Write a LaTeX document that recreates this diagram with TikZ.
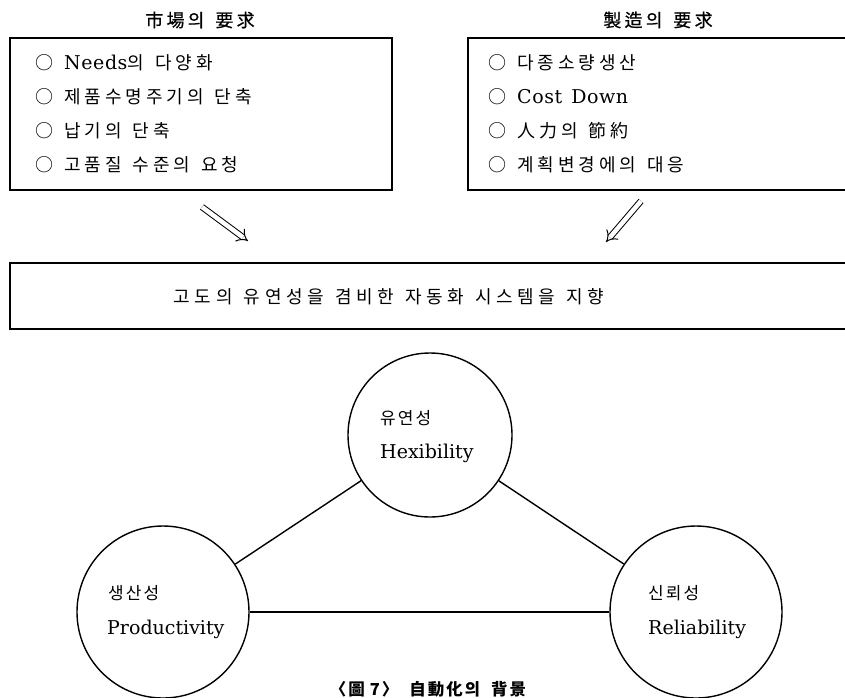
\documentclass[tikz,border=0pt]{standalone}
\usepackage{fontspec}
\setmainfont{DejaVu Serif}
\newfontfamily\kr[LetterSpace=22]{Noto Sans CJK KR}
\newfontfamily\krc[LetterSpace=12]{Noto Sans CJK KR}
\newfontfamily\krw[LetterSpace=26]{Noto Sans CJK KR}
\newfontfamily\krt[LetterSpace=18,FakeBold=0.6]{Noto Sans CJK KR}
\newfontfamily\latin{DejaVu Serif}
\newfontfamily\latinw[LetterSpace=3]{DejaVu Serif}
\newcommand\gap{\hspace{11pt}}
\newcommand\lt[1]{{\latinw\fontsize{19}{20}\selectfont #1}}
\usetikzlibrary{arrows.meta}
\begin{document}
\begin{tikzpicture}[x=1pt,y=-1pt,
  line/.style={line width=1.4pt},
  title/.style={inner sep=0, font=\krt\fontsize{18}{20}\selectfont},
  item/.style={anchor=west, inner sep=0, font=\kr\fontsize{18}{20}\selectfont},
  circ/.style={circle, draw, line width=1.4pt, minimum size=#1, inner sep=0},
  ctext/.style={anchor=west, inner sep=0, font=\krc\fontsize{17}{20}\selectfont},
  lat/.style={anchor=west, inner sep=0, font=\latin\fontsize{19}{22}\selectfont},
  bigarrow/.style={double, double distance=4.5pt, line width=1pt, -{Implies[length=7pt]}}
]
\useasboundingbox (0,0) rectangle (845,697);
% titles
\node[title] (t1) at (200,20) {市場의\gap 要求};
\node[title] (t2) at (658,20) {製造의\gap 要求};
% left box
\draw[line] (10,38) rectangle (392,190);
\node[item] (a1) at (35,63) {○\gap\lt{Needs}의\gap 다양화};
\node[item] (a2) at (35,97) {○\gap 제품수명주기의\gap 단축};
\node[item] (a3) at (35,131) {○\gap 납기의\gap 단축};
\node[item] (a4) at (35,165) {○\gap 고품질\gap 수준의\gap 요청};
% right box (open to the right)
\draw[line] (845,38) -- (468,38) -- (468,190) -- (845,190);
\node[item] (b1) at (488,63) {○\gap 다종소량생산};
\node[item] (b2) at (488,97) {○\gap\lt{Cost\hspace{9pt}Down}};
\node[item] (b3) at (488,131) {○\gap 人力의\gap 節約};
\node[item] (b4) at (488,165) {○\gap 계획변경에의\gap 대응};
% arrows
\coordinate (p1) at (202,207);
\coordinate (q1) at (248,241);
\coordinate (p2) at (641,201);
\coordinate (q2) at (606,242);
\draw[bigarrow] (p1) -- (q1);
\draw[bigarrow] (p2) -- (q2);
% goal box
\draw[line] (845,263) -- (10,263) -- (10,329) -- (845,329);
\node[inner sep=0, font=\krw\fontsize{18}{20}\selectfont] (g) at (389,297) {고도의\gap 유연성을\gap 겸비한\gap 자동화\gap 시스템을\gap 지향};
% circles
\node[circ=164pt] (flex) at (430,435) {};
\node[circ=172pt] (prod) at (163,612) {};
\node[circ=172pt] (rel) at (696,612) {};
\draw[line] (prod) -- (flex);
\draw[line] (flex) -- (rel);
\draw[line] (prod) -- (rel);
\node[ctext] (f1) at (380,418) {유연성};
\node[lat] (f2) at (380,453) {Hexibility};
\node[ctext] (p1t) at (108,593) {생산성};
\node[lat] (p2t) at (107,629) {Productivity};
\node[ctext] (r1) at (648,593) {신뢰성};
\node[lat] (r2) at (648,629) {Reliability};
% caption
\node[anchor=north, inner sep=0, font=\krc\bfseries\fontsize{16.5}{20}\selectfont] (cap) at (428,681) {〈圖\hspace{5pt}7〉\gap 自動化의\gap 背景};
\end{tikzpicture}
\end{document}
